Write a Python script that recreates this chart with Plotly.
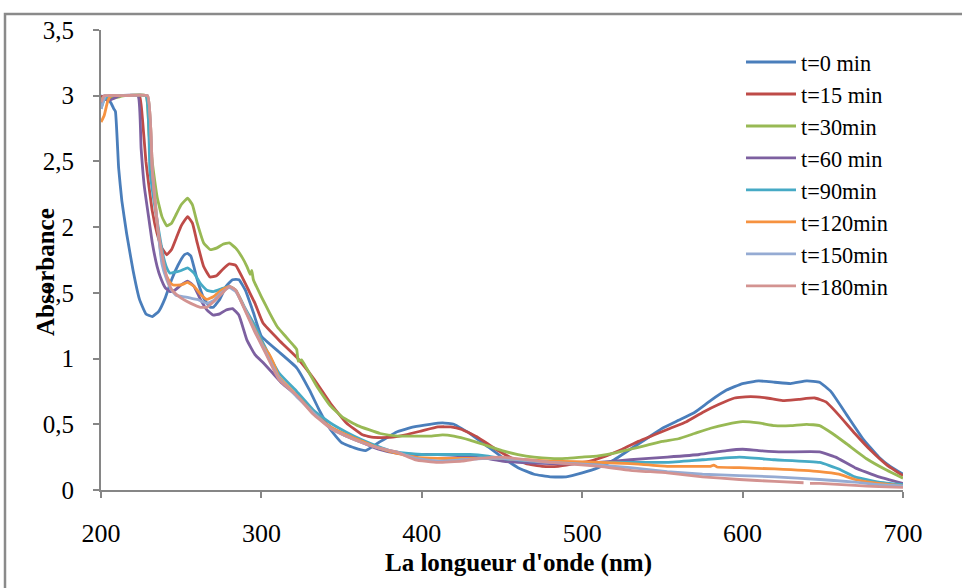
import plotly.graph_objects as go

# ---------------- data ----------------
series_names = ["t=0 min", "t=15 min", "t=30min", "t=60 min", "t=90min", "t=120min", "t=150min", "t=180min"]
series_colors = ["#4A7EBB", "#BE4B48", "#98B954", "#7D60A0", "#46AAC5", "#F69240", "#95ABD3", "#D39391"]

wl_t0 = [200, 203, 206, 208, 209, 211, 213, 216, 220, 224, 228, 232, 236, 240, 244, 248, 252, 254, 256, 260, 264, 268, 270,
         274, 278, 282, 286, 290, 295, 300, 311, 322, 330, 336, 343, 350, 358, 365, 373, 384, 395, 405, 413, 420, 430, 440,
         450, 460, 470, 480, 490, 500, 510, 520, 530, 540, 550, 560, 570, 580, 590, 600, 610, 620, 630, 640, 648, 655, 665,
         675, 685, 692, 700]
abs_t0 = [3.0, 2.98, 2.95, 2.9, 2.88, 2.45, 2.2, 1.95, 1.67, 1.45, 1.34, 1.32, 1.36, 1.46, 1.6, 1.71, 1.79, 1.80, 1.78, 1.6,
          1.46, 1.39, 1.39, 1.45, 1.55, 1.60, 1.60, 1.52, 1.35, 1.17, 1.05, 0.93, 0.76, 0.61, 0.46, 0.36, 0.32, 0.30, 0.36,
          0.44, 0.48, 0.50, 0.51, 0.50, 0.43, 0.34, 0.25, 0.17, 0.12, 0.10, 0.10, 0.13, 0.17, 0.23, 0.31, 0.39, 0.47, 0.53,
          0.59, 0.68, 0.76, 0.81, 0.83, 0.82, 0.81, 0.83, 0.82, 0.75, 0.57, 0.39, 0.25, 0.18, 0.12]

wl_t15 = [200, 203, 206, 215, 224, 226, 228, 230, 232, 235, 238, 241, 244, 247, 250, 254, 257, 260, 264, 268, 272, 276, 280,
          284, 288, 292, 296, 301, 311, 322, 333, 343, 353, 363, 370, 380, 390, 400, 410, 418, 425, 435, 445, 455, 465, 475,
          485, 495, 505, 515, 525, 535, 545, 555, 565, 575, 585, 595, 605, 615, 625, 635, 645, 652, 660, 670, 680, 690, 700]
abs_t15 = [3.0, 2.97, 3.0, 3.0, 3.0, 2.8, 2.5, 2.3, 2.12, 1.95, 1.84, 1.79, 1.83, 1.92, 2.01, 2.08, 2.03, 1.88, 1.70, 1.62,
           1.63, 1.68, 1.72, 1.71, 1.62, 1.52, 1.42, 1.27, 1.14, 1.01, 0.84, 0.66, 0.51, 0.42, 0.40, 0.40, 0.42, 0.45, 0.48,
           0.48, 0.46, 0.40, 0.32, 0.25, 0.20, 0.18, 0.18, 0.20, 0.22, 0.26, 0.31, 0.37, 0.42, 0.47, 0.52, 0.59, 0.65, 0.70,
           0.71, 0.70, 0.68, 0.69, 0.70, 0.67, 0.57, 0.43, 0.30, 0.19, 0.11]

wl_t30 = [200, 203, 206, 215, 228, 230, 232, 235, 238, 241, 244, 247, 250, 254, 257, 260, 264, 268, 272, 276, 280, 284, 288,
          291, 293, 294, 295, 300, 305, 310, 315, 320, 322, 323, 325, 328, 335, 343, 351, 360, 374, 385, 395, 405, 413, 420,
          430, 440, 450, 460, 470, 480, 490, 500, 510, 520, 530, 540, 550, 560, 570, 580, 590, 600, 610, 620, 630, 640, 648,
          656, 665, 677, 690, 700]
abs_t30 = [2.97, 3.0, 2.98, 3.0, 3.0, 2.7, 2.49, 2.23, 2.08, 2.01, 2.03, 2.1, 2.17, 2.22, 2.17, 2.03, 1.88, 1.83, 1.84, 1.87,
           1.88, 1.84, 1.77, 1.70, 1.64, 1.67, 1.60, 1.47, 1.35, 1.24, 1.17, 1.10, 1.07, 0.98, 0.99, 0.93, 0.78, 0.64, 0.55,
           0.49, 0.43, 0.41, 0.41, 0.41, 0.42, 0.41, 0.38, 0.34, 0.30, 0.27, 0.25, 0.24, 0.24, 0.25, 0.26, 0.28, 0.31, 0.34,
           0.37, 0.39, 0.43, 0.47, 0.50, 0.52, 0.51, 0.49, 0.49, 0.50, 0.49, 0.43, 0.35, 0.24, 0.15, 0.09]

wl_t60 = [200, 202, 204, 212, 223, 225, 227, 230, 232, 235, 237, 240, 243, 246, 250, 254, 258, 262, 266, 270, 274, 278, 282,
          286, 291, 296, 301, 307, 313, 320, 330, 343, 353, 363, 373, 384, 396, 410, 425, 440, 450, 460, 480, 500, 510, 530,
          553, 573, 590, 600, 610, 625, 648, 658, 670, 685, 700]
abs_t60 = [2.93, 3.0, 2.96, 3.0, 3.0, 2.6, 2.31, 2.05, 1.88, 1.70, 1.62, 1.54, 1.51, 1.52, 1.56, 1.59, 1.55, 1.45, 1.37, 1.33,
           1.34, 1.37, 1.38, 1.33, 1.14, 1.03, 0.97, 0.89, 0.81, 0.74, 0.62, 0.48, 0.41, 0.36, 0.31, 0.28, 0.27, 0.27, 0.26,
           0.24, 0.22, 0.21, 0.20, 0.20, 0.21, 0.23, 0.25, 0.27, 0.30, 0.31, 0.30, 0.29, 0.29, 0.25, 0.17, 0.10, 0.05]

wl_t90 = [200, 202, 205, 215, 228, 230.5, 233, 235, 237, 239, 241, 243, 247, 250, 254, 258, 262, 266, 270, 275, 280, 284, 290,
          296, 301, 311, 322, 333, 343, 353, 363, 373, 380, 390, 400, 410, 420, 430, 440, 450, 470, 490, 511, 530, 553, 575,
          598, 620, 648, 660, 670, 685, 700]
abs_t90 = [2.9, 2.97, 3.0, 3.0, 3.0, 2.43, 2.2, 2.05, 1.9, 1.77, 1.69, 1.65, 1.66, 1.67, 1.69, 1.65, 1.57, 1.52, 1.51, 1.53,
           1.55, 1.52, 1.38, 1.25, 1.12, 0.89, 0.75, 0.60, 0.51, 0.44, 0.38, 0.33, 0.30, 0.28, 0.27, 0.27, 0.27, 0.27, 0.26,
           0.24, 0.22, 0.21, 0.21, 0.21, 0.21, 0.23, 0.25, 0.23, 0.21, 0.16, 0.10, 0.06, 0.04]

wl_t120 = [200, 202, 204, 206, 215, 229, 232, 235.5, 238, 240, 243, 245, 250, 254, 258, 262, 266, 270, 275, 280, 284, 290, 296,
           301, 305, 307, 308, 311, 322, 333, 343, 353, 363, 373, 384, 396, 410, 425, 440, 450, 480, 511, 530, 553, 575, 580,
           582, 584, 598, 620, 648, 660, 670, 685, 700]
abs_t120 = [2.8, 2.85, 2.95, 3.0, 3.0, 3.0, 2.43, 1.98, 1.75, 1.65, 1.58, 1.56, 1.56, 1.58, 1.55, 1.49, 1.45, 1.47, 1.52,
            1.55, 1.52, 1.37, 1.22, 1.10, 1.03, 0.98, 0.95, 0.86, 0.72, 0.58, 0.48, 0.42, 0.37, 0.32, 0.28, 0.25, 0.24, 0.24,
            0.24, 0.24, 0.22, 0.21, 0.20, 0.18, 0.18, 0.18, 0.19, 0.175, 0.17, 0.16, 0.14, 0.12, 0.08, 0.05, 0.03]

wl_t150 = [200, 203, 215, 229, 232, 235.5, 238, 241, 244, 247, 252, 256, 260, 266, 270, 275, 280, 284, 290, 296, 301, 311,
           322, 333, 343, 353, 363, 373, 384, 396, 410, 425, 440, 450, 480, 511, 530, 553, 575, 598, 620, 648, 670, 685, 700]
abs_t150 = [2.9, 3.0, 3.0, 3.0, 2.43, 1.98, 1.72, 1.6, 1.52, 1.48, 1.47, 1.46, 1.45, 1.42, 1.44, 1.50, 1.54, 1.51, 1.37, 1.21,
            1.09, 0.85, 0.71, 0.58, 0.47, 0.41, 0.36, 0.32, 0.29, 0.24, 0.22, 0.23, 0.24, 0.24, 0.21, 0.19, 0.17, 0.14, 0.12,
            0.11, 0.10, 0.08, 0.06, 0.04, 0.03]

wl_t180 = [200, 202, 215, 229, 232, 235.5, 240, 243, 245, 250, 256, 262, 266, 270, 275, 280, 284, 290, 296, 301, 311, 322,
           332, 343, 353, 363, 373, 384, 396, 410, 425, 436, 450, 480, 511, 530, 553, 575, 598, 620, 638, 640, 642, 648, 670,
           685, 700]
abs_t180 = [2.95, 3.0, 3.0, 3.0, 2.43, 1.98, 1.67, 1.55, 1.51, 1.46, 1.42, 1.39, 1.39, 1.43, 1.49, 1.55, 1.52, 1.36, 1.20,
            1.08, 0.84, 0.72, 0.58, 0.47, 0.41, 0.36, 0.32, 0.29, 0.23, 0.21, 0.22, 0.24, 0.25, 0.21, 0.18, 0.15, 0.13, 0.10,
            0.08, 0.065, 0.055, None, 0.05, 0.05, 0.035, 0.025, 0.02]

x_ticks = [200, 300, 400, 500, 600, 700]
y_ticks = [0, 0.5, 1, 1.5, 2, 2.5, 3, 3.5]
x_title = "La longueur d'onde (nm)"
y_title = "Absorbance"

wls = [wl_t0, wl_t15, wl_t30, wl_t60, wl_t90, wl_t120, wl_t150, wl_t180]
absorb = [abs_t0, abs_t15, abs_t30, abs_t60, abs_t90, abs_t120, abs_t150, abs_t180]

# ---------------- figure ----------------
FONT = "Liberation Serif, Times New Roman, serif"
AXC = "#868686"

fig = go.Figure()
for name, color, x, y in zip(series_names, series_colors, wls, absorb):
    fig.add_trace(go.Scatter(x=x, y=y, name=name, mode="lines",
                             line=dict(color=color, width=2.8, shape="spline", smoothing=0.35),
                             connectgaps=False))

L, R, T, B = 101, 59, 30, 98
W, H = 962, 588
pw, ph = W - L - R, H - T - B

def px_x(p):
    return (p - L) / pw

def px_y(p):
    return (H - B - p) / ph

fig.update_layout(
    width=W, height=H,
    margin=dict(l=L, r=R, t=T, b=B, pad=0),
    paper_bgcolor="white", plot_bgcolor="white",
    separators=", ",
    font=dict(family=FONT, size=25, color="black"),
    showlegend=True,
    legend=dict(x=px_x(741), y=px_y(41), xanchor="left", yanchor="top",
                bgcolor="rgba(0,0,0,0)", font=dict(family=FONT, size=22.3, color="black"),
                itemwidth=50, tracegroupgap=0),
    xaxis=dict(range=[200, 700], tickvals=x_ticks, showgrid=False, zeroline=False,
               showline=True, linecolor=AXC, linewidth=2, ticks="outside", ticklen=6,
               tickcolor=AXC, tickwidth=2, tickfont=dict(family=FONT, size=26),
               ticklabelstandoff=13),
    yaxis=dict(range=[0, 3.5], tickvals=y_ticks, showgrid=False, zeroline=False,
               showline=True, linecolor=AXC, linewidth=2, ticks="outside", ticklen=6,
               tickcolor=AXC, tickwidth=2, tickfont=dict(family=FONT, size=25),
               ticklabelstandoff=14),
    annotations=[
        dict(text="<b>" + x_title + "</b>", xref="paper", yref="paper", x=px_x(518), y=px_y(563),
             xanchor="center", yanchor="middle", showarrow=False, font=dict(family=FONT, size=25)),
        dict(text="<b>" + y_title + "</b>", xref="paper", yref="paper", x=px_x(45), y=px_y(272),
             xanchor="center", yanchor="middle", showarrow=False, textangle=-90,
             font=dict(family=FONT, size=25)),
    ],
    shapes=[
        dict(type="rect", xref="paper", yref="paper", x0=px_x(5), x1=px_x(1100), y0=px_y(700), y1=px_y(14),
             line=dict(color="#8a8a8a", width=2.5), fillcolor="rgba(0,0,0,0)", layer="below"),
    ],
)

fig.write_html("out.html")
